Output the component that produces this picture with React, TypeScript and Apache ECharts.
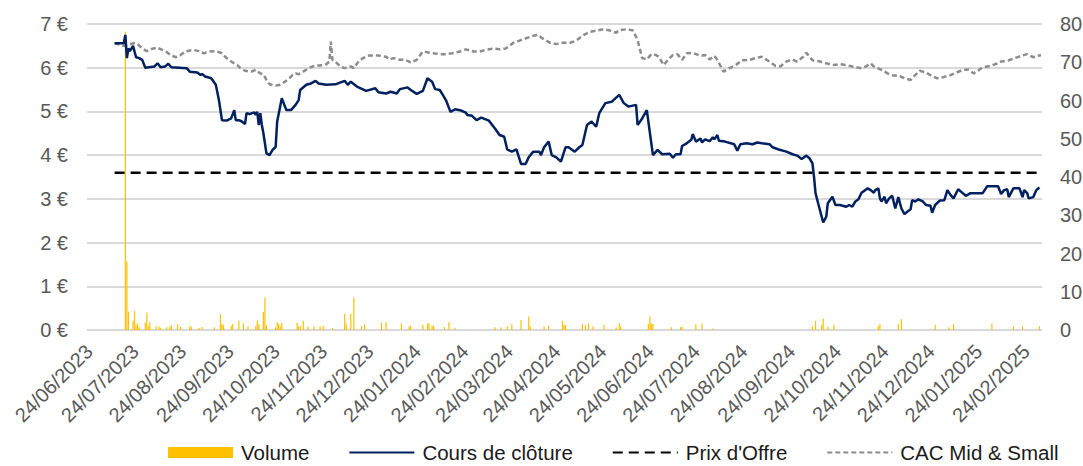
import React, { useEffect, useRef } from "react";
import * as echarts from "echarts";

// ---- Data ----
const closeData: [string, number][] = [
  ["2023-07-12", 6.56], ["2023-07-18", 6.56], ["2023-07-19", 6.75], ["2023-07-20", 6.22], ["2023-07-21", 6.44],
  ["2023-07-22", 6.38], ["2023-07-24", 6.5], ["2023-07-26", 6.24], ["2023-07-28", 6.22], ["2023-07-30", 6.18],
  ["2023-08-01", 6.0], ["2023-08-07", 6.03], ["2023-08-09", 6.1], ["2023-08-11", 6.01], ["2023-08-14", 6.03],
  ["2023-08-16", 6.09], ["2023-08-18", 6.01], ["2023-08-23", 6.0], ["2023-08-28", 5.99], ["2023-08-30", 5.91],
  ["2023-09-04", 5.89], ["2023-09-06", 5.83], ["2023-09-07", 5.86], ["2023-09-09", 5.8], ["2023-09-13", 5.76],
  ["2023-09-16", 5.61], ["2023-09-18", 5.26], ["2023-09-20", 4.8], ["2023-09-23", 4.79], ["2023-09-26", 4.84],
  ["2023-09-28", 5.03], ["2023-09-29", 4.8], ["2023-10-01", 4.8], ["2023-10-03", 4.77], ["2023-10-05", 4.71],
  ["2023-10-06", 4.96], ["2023-10-08", 4.94], ["2023-10-11", 4.98], ["2023-10-12", 4.92], ["2023-10-13", 4.99],
  ["2023-10-14", 4.69], ["2023-10-15", 4.96], ["2023-10-16", 4.69], ["2023-10-17", 4.5], ["2023-10-19", 4.04],
  ["2023-10-21", 4.0], ["2023-10-23", 4.12], ["2023-10-25", 4.19], ["2023-10-26", 4.77], ["2023-10-29", 5.3],
  ["2023-11-01", 5.03], ["2023-11-04", 5.03], ["2023-11-07", 5.15], ["2023-11-09", 5.26], ["2023-11-10", 5.49],
  ["2023-11-14", 5.61], ["2023-11-17", 5.64], ["2023-11-20", 5.7], ["2023-11-22", 5.64], ["2023-11-27", 5.61],
  ["2023-12-03", 5.62], ["2023-12-09", 5.7], ["2023-12-11", 5.61], ["2023-12-13", 5.68], ["2023-12-17", 5.57],
  ["2023-12-23", 5.47], ["2023-12-29", 5.53], ["2023-12-31", 5.44], ["2024-01-05", 5.41], ["2024-01-08", 5.45],
  ["2024-01-12", 5.41], ["2024-01-14", 5.51], ["2024-01-19", 5.55], ["2024-01-22", 5.47], ["2024-01-25", 5.4],
  ["2024-01-29", 5.47], ["2024-02-01", 5.76], ["2024-02-04", 5.68], ["2024-02-06", 5.51], ["2024-02-09", 5.49],
  ["2024-02-11", 5.38], ["2024-02-13", 5.26], ["2024-02-16", 4.99], ["2024-02-19", 5.05], ["2024-02-23", 5.02],
  ["2024-02-26", 4.97], ["2024-02-27", 4.92], ["2024-03-01", 4.9], ["2024-03-04", 4.8], ["2024-03-07", 4.86],
  ["2024-03-10", 4.82], ["2024-03-12", 4.79], ["2024-03-16", 4.61], ["2024-03-19", 4.46], ["2024-03-22", 4.42],
  ["2024-03-24", 4.13], ["2024-03-27", 4.08], ["2024-03-30", 4.13], ["2024-04-02", 3.8], ["2024-04-05", 3.8],
  ["2024-04-07", 3.95], ["2024-04-10", 4.08], ["2024-04-14", 4.08], ["2024-04-15", 4.0], ["2024-04-17", 4.18],
  ["2024-04-20", 4.31], ["2024-04-22", 4.0], ["2024-04-25", 3.95], ["2024-04-28", 3.85], ["2024-05-01", 4.18],
  ["2024-05-03", 4.18], ["2024-05-07", 4.08], ["2024-05-10", 4.18], ["2024-05-12", 4.23], ["2024-05-15", 4.69],
  ["2024-05-18", 4.77], ["2024-05-21", 4.65], ["2024-05-23", 4.96], ["2024-05-27", 5.19], ["2024-05-31", 5.22],
  ["2024-06-05", 5.38], ["2024-06-08", 5.19], ["2024-06-11", 5.11], ["2024-06-16", 5.15], ["2024-06-17", 4.69],
  ["2024-06-20", 4.84], ["2024-06-23", 5.03], ["2024-06-27", 4.0], ["2024-06-30", 4.12], ["2024-07-03", 4.02],
  ["2024-07-08", 4.03], ["2024-07-10", 3.94], ["2024-07-12", 4.02], ["2024-07-15", 4.02], ["2024-07-16", 4.21],
  ["2024-07-19", 4.27], ["2024-07-22", 4.35], ["2024-07-23", 4.48], ["2024-07-25", 4.31], ["2024-07-28", 4.38],
  ["2024-07-29", 4.29], ["2024-07-31", 4.36], ["2024-08-03", 4.32], ["2024-08-05", 4.41], ["2024-08-06", 4.36],
  ["2024-08-08", 4.46], ["2024-08-09", 4.33], ["2024-08-13", 4.31], ["2024-08-19", 4.25], ["2024-08-21", 4.1],
  ["2024-08-23", 4.25], ["2024-08-27", 4.27], ["2024-08-31", 4.25], ["2024-09-03", 4.29], ["2024-09-06", 4.27],
  ["2024-09-11", 4.25], ["2024-09-13", 4.18], ["2024-09-17", 4.13], ["2024-09-22", 4.08], ["2024-09-26", 4.02],
  ["2024-09-29", 3.99], ["2024-10-02", 3.91], ["2024-10-05", 3.99], ["2024-10-07", 3.93], ["2024-10-09", 3.81],
  ["2024-10-10", 3.51], ["2024-10-11", 3.13], ["2024-10-13", 2.86], ["2024-10-16", 2.46], ["2024-10-18", 2.59],
  ["2024-10-19", 2.9], ["2024-10-22", 3.05], ["2024-10-24", 2.86], ["2024-10-27", 2.86], ["2024-10-31", 2.82],
  ["2024-11-02", 2.86], ["2024-11-04", 2.82], ["2024-11-06", 2.94], ["2024-11-08", 2.99], ["2024-11-10", 3.14],
  ["2024-11-14", 3.24], ["2024-11-16", 3.2], ["2024-11-18", 3.14], ["2024-11-19", 3.2], ["2024-11-21", 3.24],
  ["2024-11-22", 3.01], ["2024-11-23", 2.94], ["2024-11-25", 3.05], ["2024-11-26", 2.9], ["2024-11-28", 3.01],
  ["2024-11-30", 3.07], ["2024-12-02", 2.78], ["2024-12-04", 3.04], ["2024-12-06", 2.78], ["2024-12-08", 2.65],
  ["2024-12-10", 2.71], ["2024-12-12", 2.76], ["2024-12-13", 2.97], ["2024-12-15", 2.94], ["2024-12-17", 2.99],
  ["2024-12-20", 2.94], ["2024-12-22", 2.86], ["2024-12-25", 2.84], ["2024-12-26", 2.68], ["2024-12-28", 2.86],
  ["2024-12-31", 2.96], ["2025-01-03", 2.97], ["2025-01-05", 3.2], ["2025-01-07", 3.09], ["2025-01-09", 3.01],
  ["2025-01-12", 3.22], ["2025-01-15", 3.13], ["2025-01-17", 3.07], ["2025-01-20", 3.13], ["2025-01-28", 3.13],
  ["2025-01-31", 3.29], ["2025-02-07", 3.29], ["2025-02-09", 3.11], ["2025-02-11", 3.2], ["2025-02-13", 3.22],
  ["2025-02-14", 3.04], ["2025-02-17", 3.24], ["2025-02-21", 3.24], ["2025-02-23", 3.04], ["2025-02-24", 3.2],
  ["2025-02-26", 3.13], ["2025-02-27", 3.01], ["2025-03-02", 3.04], ["2025-03-04", 3.2], ["2025-03-06", 3.26],
];

const cacData: [string, number][] = [
  ["2023-07-12", 6.56], ["2023-07-18", 6.5], ["2023-07-21", 6.54], ["2023-07-25", 6.56], ["2023-07-27", 6.54],
  ["2023-07-30", 6.44], ["2023-08-02", 6.38], ["2023-08-05", 6.43], ["2023-08-09", 6.46], ["2023-08-12", 6.41],
  ["2023-08-14", 6.38], ["2023-08-18", 6.28], ["2023-08-21", 6.24], ["2023-08-24", 6.29], ["2023-08-27", 6.37],
  ["2023-09-01", 6.41], ["2023-09-05", 6.38], ["2023-09-08", 6.33], ["2023-09-12", 6.37], ["2023-09-16", 6.38],
  ["2023-09-20", 6.33], ["2023-09-23", 6.22], ["2023-09-27", 6.12], ["2023-09-30", 6.06], ["2023-10-02", 5.99],
  ["2023-10-05", 5.93], ["2023-10-09", 5.91], ["2023-10-12", 5.95], ["2023-10-15", 5.87], ["2023-10-17", 5.85],
  ["2023-10-19", 5.72], ["2023-10-21", 5.62], ["2023-10-25", 5.59], ["2023-10-28", 5.61], ["2023-10-31", 5.68],
  ["2023-11-03", 5.76], ["2023-11-05", 5.83], ["2023-11-07", 5.87], ["2023-11-09", 5.85], ["2023-11-12", 5.91],
  ["2023-11-16", 6.0], ["2023-11-20", 6.05], ["2023-11-23", 6.05], ["2023-11-27", 6.08], ["2023-11-29", 6.14],
  ["2023-11-30", 6.6], ["2023-12-01", 6.18], ["2023-12-03", 6.14], ["2023-12-06", 6.03], ["2023-12-09", 5.99],
  ["2023-12-13", 6.03], ["2023-12-15", 5.99], ["2023-12-18", 6.14], ["2023-12-21", 6.22], ["2023-12-25", 6.28],
  ["2023-12-31", 6.28], ["2024-01-05", 6.25], ["2024-01-07", 6.19], ["2024-01-10", 6.22], ["2024-01-14", 6.18],
  ["2024-01-17", 6.19], ["2024-01-21", 6.12], ["2024-01-25", 6.18], ["2024-01-29", 6.37], ["2024-02-03", 6.34],
  ["2024-02-09", 6.31], ["2024-02-13", 6.31], ["2024-02-17", 6.33], ["2024-02-22", 6.37], ["2024-02-26", 6.42],
  ["2024-03-02", 6.37], ["2024-03-06", 6.37], ["2024-03-10", 6.41], ["2024-03-15", 6.44], ["2024-03-19", 6.42],
  ["2024-03-23", 6.44], ["2024-03-28", 6.57], ["2024-04-01", 6.62], ["2024-04-05", 6.67], ["2024-04-10", 6.73],
  ["2024-04-13", 6.75], ["2024-04-16", 6.67], ["2024-04-21", 6.57], ["2024-04-25", 6.54], ["2024-04-29", 6.57],
  ["2024-05-04", 6.57], ["2024-05-08", 6.62], ["2024-05-13", 6.75], ["2024-05-17", 6.82], ["2024-05-21", 6.85],
  ["2024-05-26", 6.88], ["2024-05-30", 6.85], ["2024-06-03", 6.8], ["2024-06-05", 6.86], ["2024-06-10", 6.88],
  ["2024-06-14", 6.85], ["2024-06-17", 6.63], ["2024-06-20", 6.22], ["2024-06-23", 6.19], ["2024-06-26", 6.31],
  ["2024-06-29", 6.29], ["2024-07-01", 6.24], ["2024-07-04", 6.06], ["2024-07-07", 6.19], ["2024-07-10", 6.29],
  ["2024-07-13", 6.31], ["2024-07-16", 6.18], ["2024-07-19", 6.33], ["2024-07-23", 6.34], ["2024-07-28", 6.27],
  ["2024-07-31", 6.29], ["2024-08-03", 6.19], ["2024-08-06", 6.27], ["2024-08-08", 6.18], ["2024-08-12", 5.91],
  ["2024-08-16", 5.99], ["2024-08-20", 6.06], ["2024-08-24", 6.17], ["2024-08-29", 6.18], ["2024-09-02", 6.22],
  ["2024-09-06", 6.25], ["2024-09-11", 6.14], ["2024-09-15", 6.04], ["2024-09-18", 6.03], ["2024-09-22", 6.14],
  ["2024-09-26", 6.19], ["2024-09-29", 6.14], ["2024-10-03", 6.25], ["2024-10-05", 6.34], ["2024-10-09", 6.17],
  ["2024-10-14", 6.14], ["2024-10-18", 6.1], ["2024-10-23", 6.06], ["2024-10-27", 6.08], ["2024-10-31", 6.06],
  ["2024-11-04", 6.03], ["2024-11-09", 5.99], ["2024-11-13", 6.03], ["2024-11-16", 6.1], ["2024-11-18", 6.03],
  ["2024-11-23", 5.95], ["2024-11-27", 5.87], ["2024-11-30", 5.83], ["2024-12-05", 5.81], ["2024-12-08", 5.76],
  ["2024-12-12", 5.72], ["2024-12-15", 5.83], ["2024-12-18", 5.93], ["2024-12-22", 5.89], ["2024-12-26", 5.81],
  ["2024-12-29", 5.76], ["2025-01-02", 5.78], ["2025-01-07", 5.83], ["2025-01-11", 5.89], ["2025-01-15", 5.95],
  ["2025-01-19", 5.96], ["2025-01-22", 5.87], ["2025-01-24", 5.91], ["2025-01-28", 6.01], ["2025-02-02", 6.04],
  ["2025-02-06", 6.09], ["2025-02-09", 6.14], ["2025-02-14", 6.17], ["2025-02-18", 6.22], ["2025-02-22", 6.27],
  ["2025-02-26", 6.31], ["2025-03-02", 6.24], ["2025-03-07", 6.29],
];

const volumeData: [string, number][] = [
  ["2023-07-19", 78], ["2023-07-20", 18], ["2023-07-21", 4.8], ["2023-07-24", 2.4], ["2023-07-25", 5.0],
  ["2023-07-26", 1.3], ["2023-07-27", 1.7], ["2023-07-28", 0.7], ["2023-08-01", 1.9], ["2023-08-02", 4.5],
  ["2023-08-03", 1.0], ["2023-08-04", 2.0], ["2023-08-08", 1.0], ["2023-08-10", 0.9], ["2023-08-11", 0.6],
  ["2023-08-15", 0.7], ["2023-08-17", 0.9], ["2023-08-18", 1.3], ["2023-08-22", 1.5], ["2023-08-24", 0.9],
  ["2023-08-30", 0.9], ["2023-08-31", 0.9], ["2023-09-05", 0.5], ["2023-09-07", 0.8], ["2023-09-15", 0.7],
  ["2023-09-19", 4.2], ["2023-09-20", 1.6], ["2023-09-21", 1.3], ["2023-09-26", 1.1], ["2023-09-27", 1.6],
  ["2023-10-01", 2.4], ["2023-10-04", 1.7], ["2023-10-07", 0.9], ["2023-10-12", 1.0], ["2023-10-13", 2.4],
  ["2023-10-14", 1.5], ["2023-10-17", 4.7], ["2023-10-18", 8.5], ["2023-10-19", 1.3], ["2023-10-25", 0.7],
  ["2023-10-26", 2.0], ["2023-10-27", 1.6], ["2023-10-28", 1.0], ["2023-10-29", 1.9], ["2023-11-08", 1.9],
  ["2023-11-09", 0.9], ["2023-11-10", 1.1], ["2023-11-12", 2.4], ["2023-11-15", 0.9], ["2023-11-19", 0.9],
  ["2023-11-23", 0.9], ["2023-11-25", 1.1], ["2023-12-01", 0.5], ["2023-12-09", 4.2], ["2023-12-10", 1.7],
  ["2023-12-13", 4.2], ["2023-12-15", 8.4], ["2023-12-20", 1.0], ["2023-12-22", 1.5], ["2024-01-02", 1.9],
  ["2024-01-05", 2.1], ["2024-01-15", 1.7], ["2024-01-20", 0.9], ["2024-01-21", 1.1], ["2024-01-29", 1.3],
  ["2024-02-01", 1.7], ["2024-02-02", 1.7], ["2024-02-04", 1.1], ["2024-02-05", 1.1], ["2024-02-12", 0.8],
  ["2024-02-15", 2.1], ["2024-02-19", 0.6], ["2024-03-16", 0.7], ["2024-03-20", 0.7], ["2024-03-24", 0.9],
  ["2024-03-27", 1.5], ["2024-04-02", 2.6], ["2024-04-07", 3.5], ["2024-04-08", 1.0], ["2024-04-17", 0.9],
  ["2024-04-20", 1.1], ["2024-04-29", 2.4], ["2024-04-30", 1.3], ["2024-05-01", 1.3], ["2024-05-12", 1.6],
  ["2024-05-14", 1.3], ["2024-05-16", 1.7], ["2024-05-19", 0.9], ["2024-05-26", 1.4], ["2024-06-03", 0.7],
  ["2024-06-05", 1.7], ["2024-06-06", 0.9], ["2024-06-24", 1.6], ["2024-06-25", 3.5], ["2024-06-26", 1.7],
  ["2024-06-27", 1.6], ["2024-07-09", 0.7], ["2024-07-15", 0.7], ["2024-07-16", 0.9], ["2024-07-25", 1.5],
  ["2024-07-29", 1.7], ["2024-08-05", 0.4], ["2024-10-09", 1.0], ["2024-10-11", 2.4], ["2024-10-15", 1.3],
  ["2024-10-16", 3.0], ["2024-10-19", 0.9], ["2024-10-23", 1.3], ["2024-11-21", 1.0], ["2024-11-22", 1.5],
  ["2024-12-04", 1.5], ["2024-12-06", 2.8], ["2024-12-28", 1.3], ["2025-01-06", 0.7], ["2025-01-09", 1.6],
  ["2025-02-03", 1.7], ["2025-02-17", 0.9], ["2025-02-23", 0.9], ["2025-03-06", 1.0],
];

const offerPrice = 3.6;
const offerDates: string[] = ["2023-07-12", "2025-03-07"];

const tickLabels: string[] = [
  "24/06/2023", "24/07/2023", "24/08/2023", "24/09/2023", "24/10/2023", "24/11/2023", "24/12/2023",
  "24/01/2024", "24/02/2024", "24/03/2024", "24/04/2024", "24/05/2024", "24/06/2024", "24/07/2024",
  "24/08/2024", "24/09/2024", "24/10/2024", "24/11/2024", "24/12/2024", "24/01/2025", "24/02/2025",
];

const seriesNames = ["Volume", "Cours de clôture", "Prix d'Offre", "CAC Mid & Small"];

const FONT = "'Liberation Sans', Arial, sans-serif";
const LABEL_COLOR = "#595959";

function isoToTime(s: string): number {
  const [y, m, d] = s.split("-").map(Number);
  return new Date(y, m - 1, d).getTime();
}
function frToTime(s: string): number {
  const [d, m, y] = s.split("/").map(Number);
  return new Date(y, m - 1, d).getTime();
}
function pad(n: number) {
  return n < 10 ? "0" + n : "" + n;
}
function fmtDate(v: number): string {
  const d = new Date(v);
  return pad(d.getDate()) + "/" + pad(d.getMonth() + 1) + "/" + d.getFullYear();
}
const toPoints = (arr: [string, number][]) => arr.map(([d, v]) => [isoToTime(d), v]);

export default function App() {
  const ref = useRef<HTMLDivElement>(null);
  useEffect(() => {
    if (!ref.current) return;
    const chart = echarts.init(ref.current, undefined, { renderer: "svg" });
    const tickValues = tickLabels.map(frToTime);
    const axisMin = frToTime(tickLabels[0]);
    const axisMax = new Date(2025, 2, 7, 16).getTime();
    const hiddenSymbol = { opacity: 0 };
    chart.setOption({
      animation: false,
      backgroundColor: "#ffffff",
      grid: { left: 87, right: 41, top: 24, bottom: 136, containLabel: false, outerBoundsMode: "none" },
      legend: {
        left: 168,
        top: 442,
        padding: 0,
        itemWidth: 65,
        itemHeight: 11,
        itemGap: 39,
        textStyle: { fontSize: 20.5, lineHeight: 20, color: "#1a1a1a", fontFamily: FONT, padding: [0, 0, 0, 3] },
        data: [
          { name: seriesNames[0], icon: "rect" },
          { name: seriesNames[1], itemStyle: hiddenSymbol },
          { name: seriesNames[2], itemStyle: hiddenSymbol },
          { name: seriesNames[3], itemStyle: hiddenSymbol },
        ],
      },
      xAxis: {
        type: "value",
        min: axisMin,
        max: axisMax,
        axisLine: { show: false },
        axisTick: { show: false },
        splitLine: { show: false },
        axisLabel: {
          customValues: tickValues,
          formatter: (v: number) => fmtDate(v),
          rotate: 45,
          margin: 20,
          fontSize: 20,
          color: LABEL_COLOR,
          fontFamily: FONT,
          hideOverlap: false,
          padding: [0, -3, 0, 0],
        },
      },
      yAxis: [
        {
          type: "value",
          min: 0,
          max: 7,
          interval: 1,
          position: "left",
          axisLine: { show: false },
          axisTick: { show: false },
          splitLine: { lineStyle: { color: "#D9D9D9", width: 2 } },
          axisLabel: { formatter: "{value} €", fontSize: 20, color: LABEL_COLOR, fontFamily: FONT, margin: 19 },
        },
        {
          type: "value",
          min: 0,
          max: 80,
          interval: 10,
          position: "right",
          axisLine: { show: false },
          axisTick: { show: false },
          splitLine: { show: false },
          axisLabel: { fontSize: 20, color: LABEL_COLOR, fontFamily: FONT, margin: 18 },
        },
      ],
      series: [
        {
          name: seriesNames[0],
          type: "bar",
          yAxisIndex: 1,
          barWidth: 1.2,
          itemStyle: { color: "#FFC000" },
          data: toPoints(volumeData),
          z: 1,
        },
        {
          name: seriesNames[1],
          type: "line",
          yAxisIndex: 0,
          symbol: "none",
          lineStyle: { color: "#002060", width: 2.5 },
          itemStyle: { color: "#002060" },
          data: toPoints(closeData),
          z: 4,
        },
        {
          name: seriesNames[2],
          type: "line",
          yAxisIndex: 0,
          symbol: "none",
          lineStyle: { color: "#000000", width: 2.5, type: [10, 6] },
          itemStyle: { color: "#000000" },
          data: offerDates.map((d) => [isoToTime(d), offerPrice]),
          z: 3,
        },
        {
          name: seriesNames[3],
          type: "line",
          yAxisIndex: 0,
          symbol: "none",
          lineStyle: { color: "#8C8C8C", width: 2.5, type: [5, 3] },
          itemStyle: { color: "#8C8C8C" },
          data: toPoints(cacData),
          z: 2,
        },
      ],
    });
    return () => chart.dispose();
  }, []);
  return <div ref={ref} style={{ position: "fixed", left: 0, top: 0, width: 1083, height: 466 }} />;
}
